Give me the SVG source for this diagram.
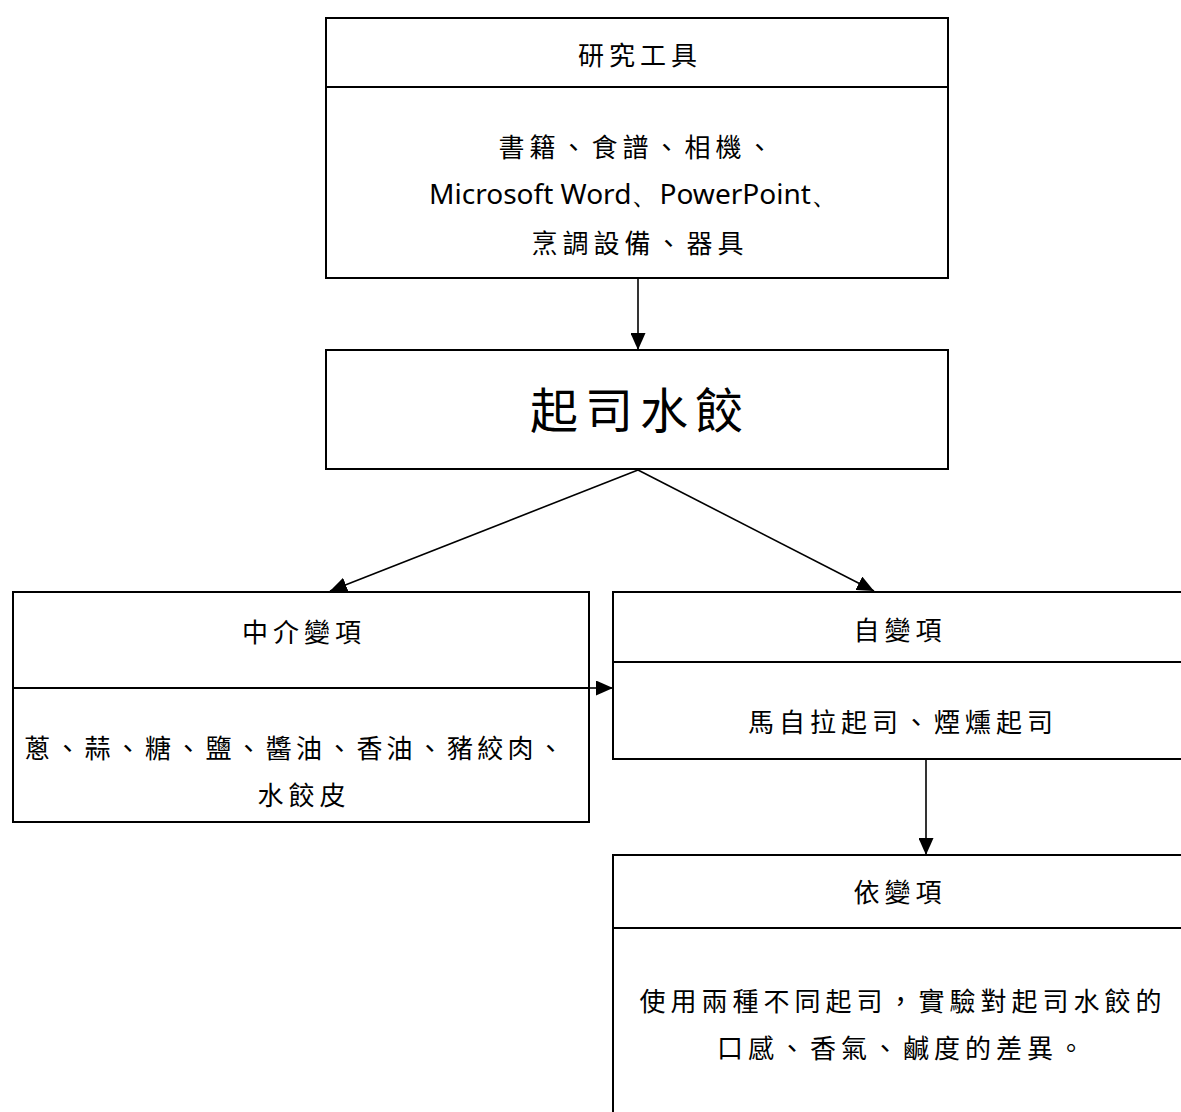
<svg xmlns="http://www.w3.org/2000/svg" width="1181" height="1112" viewBox="0 0 1181 1112">
<style>
.box{fill:#fff;stroke:#000;stroke-width:2}
.div{stroke:#000;stroke-width:2}
.cj{font-family:"Liberation Serif","Noto Sans CJK TC",serif;font-size:26px;letter-spacing:5px;text-anchor:middle;fill:#000}
.lat{font-family:"Noto Sans","Liberation Sans",sans-serif;font-size:28px;text-anchor:middle;fill:#000}
.big{font-family:"Liberation Serif","Noto Sans CJK TC",serif;font-size:48px;letter-spacing:7px;text-anchor:middle;fill:#000}
.con{stroke:#000;stroke-width:1.6;fill:none;marker-end:url(#ah)}
</style>
<defs>
<marker id="ah" markerWidth="17" markerHeight="15" refX="17" refY="7.5" orient="auto" markerUnits="userSpaceOnUse" viewBox="0 0 17 15">
<path d="M0,0 L17,7.5 L0,15 Z" fill="#000"/>
</marker>
</defs>
<rect width="1181" height="1112" fill="#fff"/>
<g id="connectors">
<line class="con" x1="638" y1="278" x2="638" y2="350"/>
<line class="con" x1="638" y1="470" x2="330" y2="591"/>
<line class="con" x1="638" y1="470" x2="874" y2="591"/>
<line class="con" x1="589" y1="688" x2="613" y2="688"/>
<line class="con" x1="926" y1="759" x2="926" y2="855"/>
</g>
<g id="tools">
<rect class="box" x="326" y="18" width="622" height="260"/>
<line class="div" x1="326" y1="87" x2="948" y2="87"/>
<text class="cj" x="640" y="65">研究工具</text>
<text class="cj" x="638" y="157">書籍、食譜、相機、</text>
<text class="lat" x="634" y="204" textLength="410" lengthAdjust="spacingAndGlyphs">Microsoft Word、PowerPoint、</text>
<text class="cj" x="640" y="253">烹調設備、器具</text>
</g>
<g id="main">
<rect class="box" x="326" y="350" width="622" height="119"/>
<text class="big" x="640" y="428">起司水餃</text>
</g>
<g id="mediator">
<rect class="box" x="13" y="592" width="576" height="230"/>
<line class="div" x1="13" y1="688" x2="589" y2="688"/>
<text class="cj" x="304" y="642">中介變項</text>
<text class="cj" x="296" y="758" style="letter-spacing:4.2px">蔥、蒜、糖、鹽、醬油、香油、豬絞肉、</text>
<text class="cj" x="304" y="805">水餃皮</text>
</g>
<g id="independent">
<rect class="box" x="613" y="592" width="572" height="167"/>
<line class="div" x1="613" y1="662" x2="1181" y2="662"/>
<text class="cj" x="900" y="640">自變項</text>
<text class="cj" x="903" y="732">馬自拉起司、煙燻起司</text>
</g>
<g id="dependent">
<rect class="box" x="613" y="855" width="572" height="270"/>
<line class="div" x1="613" y1="928" x2="1181" y2="928"/>
<text class="cj" x="900" y="902">依變項</text>
<text class="cj" x="903" y="1011">使用兩種不同起司，實驗對起司水餃的</text>
<text class="cj" x="903" y="1058">口感、香氣、鹹度的差異。</text>
</g>
</svg>
